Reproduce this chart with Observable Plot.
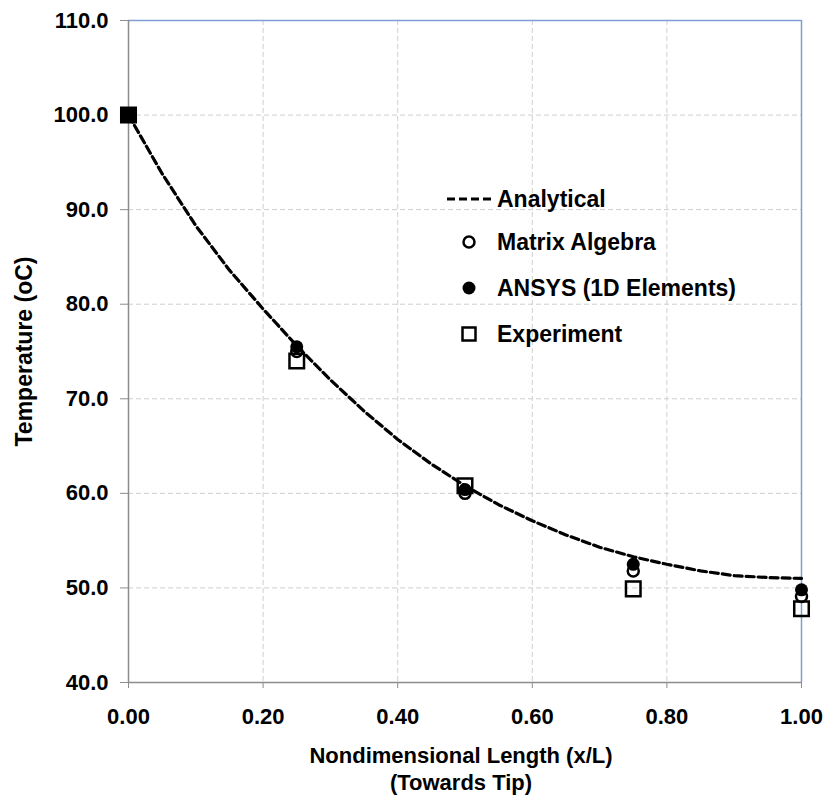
<!DOCTYPE html>
<html>
<head>
<meta charset="utf-8">
<script src="https://cdn.jsdelivr.net/npm/d3@7"></script>
<script src="https://cdn.jsdelivr.net/npm/@observablehq/plot@0.6"></script>
<style>
  html, body { margin: 0; padding: 0; background: #fff; }
  #chart { width: 830px; height: 800px; }
</style>
</head>
<body>
<div id="chart"></div>
<script>
// Analytical curve
const analyticalX = [0, 0.05, 0.1, 0.15, 0.2, 0.25, 0.3, 0.35, 0.4, 0.45, 0.5, 0.55, 0.6, 0.65, 0.7, 0.75, 0.8, 0.85, 0.9, 0.95, 1.0];
const analyticalT = [100, 93.8, 88.3, 83.6, 79.5, 75.6, 72.0, 68.7, 65.7, 63.1, 60.8, 58.8, 57.1, 55.6, 54.3, 53.3, 52.5, 51.8, 51.3, 51.1, 51.0];

// Discrete series
const pointX = [0, 0.25, 0.5, 0.75, 1.0];
const matrixT = [100, 75.0, 60.0, 51.8, 49.1];
const ansysT = [100, 75.5, 60.4, 52.5, 49.8];
const experimentT = [100, 74.0, 60.8, 49.9, 47.8];

const xTicks = [0, 0.2, 0.4, 0.6, 0.8, 1.0];
const yTicks = [40, 50, 60, 70, 80, 90, 100, 110];

const legendLabels = ["Analytical", "Matrix Algebra", "ANSYS (1D Elements)", "Experiment"];
const xTitle1 = "Nondimensional Length (x/L)";
const xTitle2 = "(Towards Tip)";
const yTitle = "Temperature (oC)";

const analytical = analyticalX.map((x, i) => ({x, y: analyticalT[i]}));
const matrix = pointX.map((x, i) => ({x, y: matrixT[i]}));
const ansys = pointX.map((x, i) => ({x, y: ansysT[i]}));
const experiment = pointX.map((x, i) => ({x, y: experimentT[i]}));

const gridStyle = {stroke: "#cfcfcf", strokeOpacity: 1, strokeWidth: 1, strokeDasharray: "5,3"};
const blue = "#7f9fd3";
const gray = "#8c8c8c";
const font = "'Liberation Sans', Arial, sans-serif";

const chart = Plot.plot({
  width: 830,
  height: 800,
  marginLeft: 128,
  marginRight: 29,
  marginTop: 20,
  marginBottom: 118,
  style: {fontFamily: font, fontSize: "22px", fontWeight: "bold", background: "#fff", color: "#000"},
  x: {domain: [0, 1]},
  y: {domain: [40, 110]},
  marks: [
    Plot.gridX(xTicks.slice(1, -1), gridStyle),
    Plot.gridY(yTicks.slice(1, -1), gridStyle),
    Plot.ruleY([110], {stroke: blue, strokeWidth: 1.5}),
    Plot.ruleX([1], {stroke: blue, strokeWidth: 1.5}),
    Plot.ruleX([0], {stroke: gray, strokeWidth: 1.5}),
    Plot.ruleY([40], {stroke: gray, strokeWidth: 1.5}),
    Plot.axisY({ticks: yTicks, tickFormat: d3.format(".1f"), tickSize: 8, tickPadding: 12, stroke: gray, fill: "#000", fontSize: 22, label: null}),
    Plot.axisX({ticks: xTicks, tickFormat: d3.format(".2f"), tickSize: 6, tickPadding: 20, stroke: gray, fill: "#000", fontSize: 22, label: null}),
    Plot.line(analytical, {x: "x", y: "y", stroke: "#000", strokeWidth: 3.2, strokeDasharray: "8,4"}),
    Plot.dot(matrix, {x: "x", y: "y", r: 5.5, stroke: "#000", strokeWidth: 2.5, fill: "#fff"}),
    Plot.dot(ansys, {x: "x", y: "y", r: 6.5, fill: "#000"}),
    Plot.dot(experiment, {x: "x", y: "y", symbol: "square", r: 8.2, stroke: "#000", strokeWidth: 2.5, fill: d => d.x === 0 ? "#000" : "none"}),
    Plot.text([xTitle1], {frameAnchor: "bottom", textAnchor: "middle", lineAnchor: "middle", dy: 73, dx: -4, fontSize: 22, fontWeight: "bold"}),
    Plot.text([xTitle2], {frameAnchor: "bottom", textAnchor: "middle", lineAnchor: "middle", dy: 100, dx: -4, fontSize: 22, fontWeight: "bold"}),
    Plot.text([yTitle], {frameAnchor: "left", textAnchor: "middle", lineAnchor: "middle", rotate: -90, dx: -104, fontSize: 23, fontWeight: "bold"})
  ]
});

// Legend drawn inside the plot area
const svg = d3.select(chart);
const lg = svg.append("g")
  .attr("font-family", font)
  .attr("font-size", 23).attr("font-weight", "bold").attr("text-anchor", "start");
const rows = [199, 242, 288, 334];
lg.append("line").attr("x1", 447).attr("x2", 495).attr("y1", rows[0]).attr("y2", rows[0])
  .attr("stroke", "#000").attr("stroke-width", 3).attr("stroke-dasharray", "8,4");
lg.append("circle").attr("cx", 469).attr("cy", rows[1]).attr("r", 5.5).attr("fill", "#fff").attr("stroke", "#000").attr("stroke-width", 2.5);
lg.append("circle").attr("cx", 469).attr("cy", rows[2]).attr("r", 6.5).attr("fill", "#000");
lg.append("rect").attr("x", 469 - 6.5).attr("y", rows[3] - 6.5).attr("width", 13).attr("height", 13).attr("fill", "none").attr("stroke", "#000").attr("stroke-width", 2.5);
legendLabels.forEach((t, i) => {
  lg.append("text").attr("x", 497).attr("y", rows[i]).attr("dy", "0.36em").attr("text-anchor", "start").text(t);
});

document.getElementById("chart").appendChild(chart);
</script>
</body>
</html>
